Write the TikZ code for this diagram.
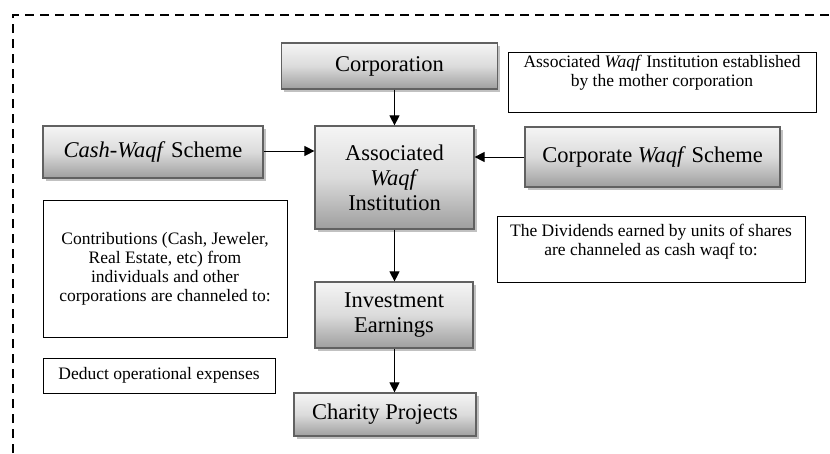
\documentclass[tikz,border=0pt]{standalone}
\usepackage{fontspec}
\setmainfont{Liberation Serif}
\usepackage{tikz}
\usetikzlibrary{arrows.meta, shadows}
\colorlet{colorShadeTop}{black!4}
\colorlet{colorShadeMid}{black!14}
\colorlet{colorShadeBottom}{black!38}
\colorlet{colorBorder}{black!62}
\colorlet{colorShadow}{black!35}
\tikzset{
  process/.style={draw=colorBorder, line width=1.2pt, top color=colorShadeTop, bottom color=colorShadeBottom, middle color=colorShadeMid, align=center, inner sep=0pt, font=\fontsize{22.5}{25}\selectfont, drop shadow={shadow xshift=2.5pt, shadow yshift=-2.5pt, fill=colorShadow, opacity=0.7}},
  note/.style={draw=black, line width=0.9pt, fill=white, align=center, inner sep=0pt, font=\fontsize{17.5}{19}\selectfont},
  flow/.style={->, >={Triangle[length=10pt, width=10pt]}, line width=1pt},
}

\begin{document}
\begin{tikzpicture}[x=1pt, y=-1pt]
\useasboundingbox (0,0) rectangle (830,453);
% frame round the whole scheme
\draw [line width=2.6pt, dash pattern=on 9pt off 6pt] (13,453) -- (13,15) -- (830,15);
\node[process, minimum width=216pt, minimum height=46pt] (corp) at (389.5,66) {Corporation};
\node[process, minimum width=159pt, minimum height=103pt] (awi) at (394.5,177.5) {Associated\\\textit{Waqf}\\Institution};
\node[process, minimum width=220pt, minimum height=52pt] (cash) at (153,152) {\textit{Cash-Waqf} Scheme};
\node[process, minimum width=255pt, minimum height=60pt] (corpscheme) at (652.5,157) {Corporate \textit{Waqf} Scheme};
\node[process, minimum width=158pt, minimum height=66pt] (invest) at (394,315) {Investment\\Earnings};
\node[process, minimum width=182pt, minimum height=43pt] (charity) at (385,414.5) {Charity Projects};
\node[note, minimum width=308pt, minimum height=60pt] (mother) at (662,82) {Associated \textit{Waqf} Institution established\\by the mother corporation\\[4pt]};
\node[note, minimum width=244pt, minimum height=137pt] (contrib) at (165,268.5) {Contributions (Cash, Jeweler,\\Real Estate, etc) from\\individuals and other\\corporations are channeled to:};
\node[note, minimum width=232pt, minimum height=35pt] (deduct) at (159,375.5) {Deduct operational expenses};
\node[note, minimum width=308pt, minimum height=66pt] (dividends) at (651,249) {The Dividends earned by units of shares\\are channeled as cash waqf to:\\\mbox{}};
\draw [flow] (awi.north |- corp.south) -- (awi.north);
\draw [flow] ([yshift=1pt]cash.east) -- ([yshift=1pt]cash.east -| awi.west);
\draw [flow] (corpscheme.west) -- (corpscheme.west -| awi.east);
\draw [flow] (awi.south) -- (awi.south |- invest.north);
\draw [flow] (awi.south |- invest.south) -- (awi.south |- charity.north);
\end{tikzpicture}
\end{document}
